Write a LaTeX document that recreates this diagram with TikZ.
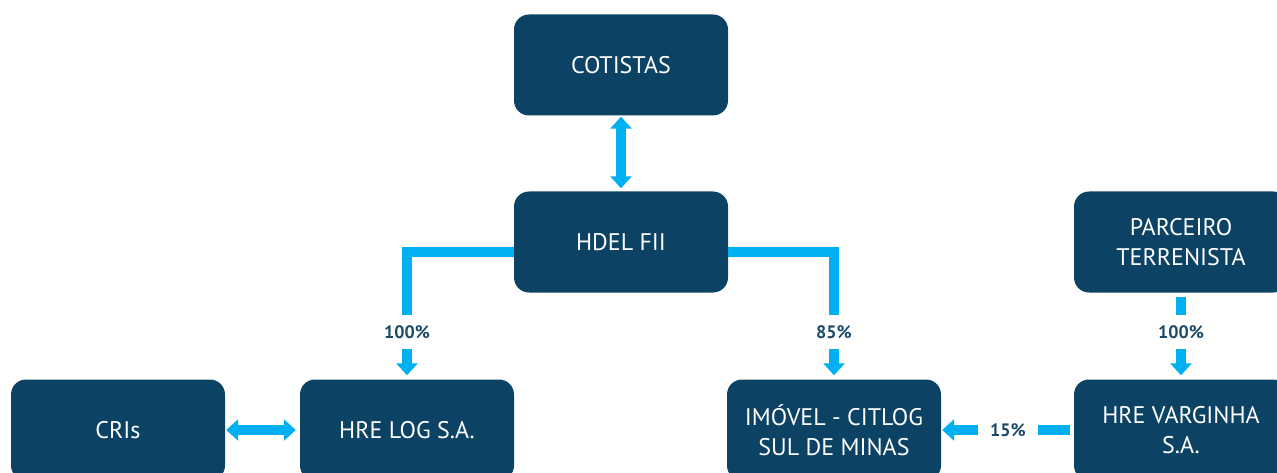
\documentclass[tikz,border=0pt]{standalone}
\usepackage{fontspec}
\setmainfont{PT Sans}
\usetikzlibrary{arrows.meta}
\definecolor{navy}{HTML}{0C4263}
\definecolor{cyanline}{HTML}{00B0F0}
\definecolor{lab}{HTML}{1A4A6A}
\tikzset{
  box/.style={fill=navy, rounded corners=15pt, minimum width=214pt, minimum height=101pt,
    text=white, font=\fontsize{24}{30}\selectfont, align=center, inner sep=0pt},
  conn/.style={draw=cyanline, line width=9.5pt},
  tipa/.style={-{Triangle[width=21pt,length=12pt]}},
  tipb/.style={{Triangle[width=21pt,length=12pt]}-{Triangle[width=21pt,length=12pt]}},
  pct/.style={fill=white, text=lab, font=\fontsize{18}{20}\bfseries\selectfont, inner xsep=3pt, inner ysep=10pt}
}
\begin{document}
\begin{tikzpicture}[x=1pt,y=-1pt]
\useasboundingbox (0,0) rectangle (1277,473);
\node[box] (cot) at (621,65) {COTISTAS};
\node[box] (hdel) at (621,242) {HDEL FII};
\node[box] (parc) at (1181,242) {PARCEIRO\\TERRENISTA};
\node[box] (cri) at (118,430) {CRIs};
\node[box] (hlog) at (407,430) {HRE LOG S.A.};
\node[box] (imo) at (834,430) {IMÓVEL - CITLOG\\SUL DE MINAS};
\node[box] (varg) at (1181,430) {HRE VARGINHA\\S.A.};
% connectors
\draw[conn,tipb,shorten <=1pt,shorten >=3pt] (cot.south) -- (hdel.north);
\draw[conn,tipa,shorten >=4pt] ([yshift=-10pt]hdel.west) -| (hlog.north)
  node[pct] at (407,332) {100\%};
\draw[conn,tipa,shorten >=4pt] ([yshift=-10pt]hdel.east) -| (imo.north)
  node[pct] at (834,332) {85\%};
\draw[conn,tipa,shorten <=4pt,shorten >=4pt] (parc.south) -- (varg.north)
  node[pct] at (1181,332) {100\%};
\draw[conn,tipa,shorten <=4pt,shorten >=1pt] (varg.west) -- (imo.east)
  node[pct,inner xsep=12pt,inner ysep=6pt] at (1008,430) {15\%};
\draw[conn,tipb,shorten <=1pt,shorten >=4pt] (cri.east) -- (hlog.west);
\end{tikzpicture}
\end{document}
